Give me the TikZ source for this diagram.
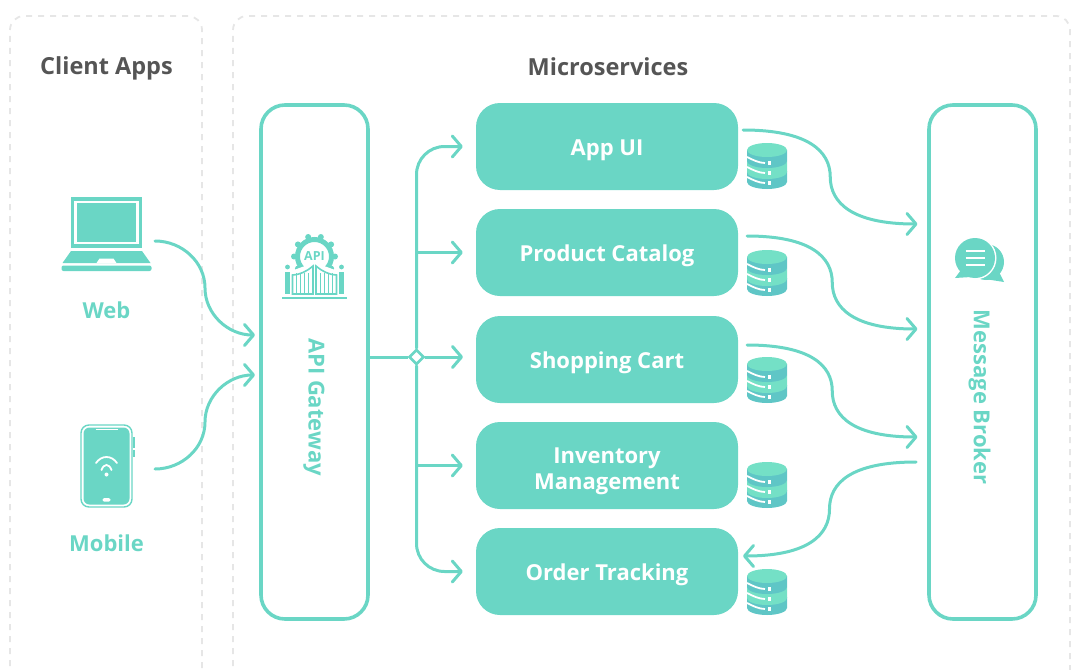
\documentclass[tikz,border=0pt]{standalone}
\usepackage{fontspec}
\setmainfont{Open Sans}
\usetikzlibrary{arrows.meta, calc, shapes.geometric}
\definecolor{mint}{HTML}{6AD6C5}
\definecolor{mintlight}{HTML}{74E0C6}
\definecolor{mintdark}{HTML}{5FC6C6}
\definecolor{titlegrey}{HTML}{555555}
\definecolor{panelgrey}{HTML}{E6E6E6}
\tikzset{x=1pt, y=-1pt}
\tikzset{panel/.style={draw=panelgrey, line width=1.8pt, dash pattern=on 6pt off 6pt, rounded corners=14pt}}
\tikzset{rail/.style={draw=mint, line width=3.6pt, rounded corners=24pt}}
\tikzset{service/.style={fill=mint, rounded corners=24pt, minimum width=262pt, minimum height=87pt, inner sep=0pt, align=center, text=white, font=\fontsize{22}{25.5}\selectfont\bfseries, execute at begin node={\rule{0pt}{23pt}}}}
\tikzset{flow/.style={draw=mint, line width=3pt, line cap=round, -{Straight Barb[length=9pt, width=21pt, line width=3pt, round]}}}
\tikzset{title/.style={text=titlegrey, font=\fontsize{23.5}{26}\selectfont\bfseries}}
\tikzset{caption/.style={text=mint, font=\fontsize{22}{26}\selectfont\bfseries}}
\tikzset{
  dbicon/.pic={
    \fill[mintdark] (-20,5) rectangle (20,16) (0,16) circle[x radius=20pt, y radius=7pt];
    \fill[mintlight] (-20,-5) rectangle (20,6) (0,6) circle[x radius=20pt, y radius=7pt];
    \fill[mintdark] (-20,-16) rectangle (20,-5) (0,-5) circle[x radius=20pt, y radius=7pt];
    \fill[mintlight] (0,-16) circle[x radius=20pt, y radius=7pt];
    \foreach \row in {-3, 7, 17} {
      \draw[white, line width=1.8pt] (-20,\row-6) .. controls (-14,\row-3) and (-8,\row) .. (-2,\row);
      \fill[white] (0.5,\row-1.8) rectangle (4,\row+1.8);
    }
  },
  laptopicon/.pic={
    \fill[mint] (-35.5,-35) rectangle (35.5,16);
    \draw[white, line width=2.2pt] (-31,-30) rectangle (31,11);
    \fill[mint] (-35.5,19) -- (35.5,19) -- (44,31) -- (-44,31) -- cycle;
    \fill[white] (-10,31) -- (-7,26.5) -- (7,26.5) -- (10,31) -- cycle;
    \fill[mint, rounded corners=2pt] (-45,33.5) rectangle (45,39);
  },
  phoneicon/.pic={
    \draw[mint, line width=1.4pt, rounded corners=8pt] (-25.5,-41) rectangle (25.5,41);
    \fill[mint, rounded corners=6pt] (-23,-38.5) rectangle (23,38.5);
    \fill[mint] (26,-29) rectangle (28.5,-18);
    \fill[mint] (26,-16) rectangle (28.5,-9);
    \draw[white, line width=1.4pt] (-11,-36.5) -- (11,-36.5);
    \draw[white, line width=1.8pt, line cap=round] (-10.5,-3) .. controls (-5,-11) and (5,-11) .. (10.5,-3);
    \draw[white, line width=1.8pt, line cap=round] (-5,4) .. controls (-2.5,-2.7) and (2.5,-2.7) .. (5,4);
    \fill[white] (0,8.5) circle (2pt);
    \fill[white, rounded corners=1.5pt] (-4,32) rectangle (4,35.5);
  },
  gateicon/.pic={
    \foreach \ang in {0,36,...,324} {
      \fill[mint] (\ang:20.5) circle (3pt);
    }
    \draw[mint, line width=5pt] (0,0) circle (17pt);
    \node[text=mint, inner sep=0pt, font=\fontsize{12.5}{12.5}\selectfont\bfseries] (apitext) at (0,0) {API};
    \fill[white] (-30,37.5) -- (-30,14) -- (-22,14) -- (0,6) -- (22,14) -- (30,14) -- (30,37.5) -- cycle;
    \fill[mint] (-32.5,40.5) rectangle (32.5,42.5);
    \foreach \side in {-1, 1} {
      \fill[mint] (\side*27,10.5) circle (2.4pt);
      \fill[mint] (\side*27-2.5,15) rectangle (\side*27+2.5,37.5);
      \draw[mint, line width=1.6pt] (\side*1.5,37.5) -- (\side*1.5,9.5) .. controls (\side*8,15) and (\side*14,18) .. (\side*22,18.5) -- (\side*22,37.5) -- cycle;
      \foreach \bar in {6, 10, 14, 18} {
        \draw[mint, line width=1.4pt] (\side*\bar,37.5) -- (\side*\bar,16);
      }
    }
  },
  chaticon/.pic={
    \fill[mint] (11,4) circle (18pt);
    \fill[mint] (22,10) -- (29,24) -- (10,21) -- cycle;
    \fill[white] (0,0) circle (21.5pt);
    \fill[mint] (0,0) circle (20pt);
    \fill[mint] (-14,12) -- (-20,20) -- (-4,19) -- cycle;
    \foreach \row in {-7, 0, 7} {
      \draw[white, line width=1.3pt] (-9.5,\row) -- (9.5,\row);
    }
  }
}

\begin{document}
\begin{tikzpicture}
	\useasboundingbox (0,0) rectangle (1078,669);

	% panels
	\draw [panel] (10,690) -- (10,16) -- (202,16) -- (202,690);
	\draw [panel] (233,690) -- (233,16) -- (1070,16) -- (1070,690);
	\node [title] (clienttitle) at (106.5,68) {Client Apps};
	\node [title] (microtitle) at (608,66.5) {Microservices};

	% clients
	\path (106.5,232) pic {laptopicon};
	\path (106.5,466) pic {phoneicon};
	\node [caption] (web) at (106.5,310) {Web};
	\node [caption] (mobile) at (106.5,543) {Mobile};
	\coordinate (webout) at (155,241);
	\coordinate (mobileout) at (155,469);

	% gateway and broker
	\draw [rail] (261,105) rectangle (368,619);
	\draw [rail] (929,105) rectangle (1036,619);
	\path (314.5,256.5) pic {gateicon};
	\path (975,258) pic {chaticon};
	\node [caption, rotate=-90] (gateway) at (314,407) {API Gateway};
	\node [caption, rotate=-90] (broker) at (979.5,397) {Message Broker};
	\coordinate (gatewayin) at (255,335);
	\coordinate (gatewayin2) at (255,375);
	\coordinate (gatewayout) at (368,357);
	\coordinate (brokerin) at (917.5,224);
	\coordinate (brokerin2) at (917.5,329);
	\coordinate (brokerin3) at (917.5,437);
	\coordinate (brokerout) at (916,462);

	% services
	\node [service] (app) at (607,146.5) {App UI};
	\node [service] (catalog) at (607,252.5) {Product Catalog};
	\node [service] (cart) at (607,359.5) {Shopping Cart};
	\node [service] (inventory) at (607,465.5) {\rule{0pt}{27pt}Inventory\\Management};
	\node [service] (order) at (607,571.5) {Order Tracking};
	\foreach \dby in {166, 273, 380, 485, 592} {
		\path (767,\dby) pic {dbicon};
	}
	\coordinate (appout) at (743,130);
	\coordinate (catalogout) at (747,236);
	\coordinate (cartout) at (747,345);
	\coordinate (orderin) at (743,556);

	% connectors
	\draw [flow] (webout) .. controls +(27,0) and +(0,-26) .. ($(webout)!.5!(gatewayin)$) .. controls +(0,26) and +(-27,0) .. (gatewayin);
	\draw [flow] (mobileout) .. controls +(27,0) and +(0,26) .. ($(mobileout)!.5!(gatewayin2)$) .. controls +(0,-26) and +(-27,0) .. (gatewayin2);

	\node [draw=mint, fill=white, line width=2.6pt, diamond, inner sep=0pt, minimum size=15pt] (hub) at (416.5,357) {};
	\draw [draw=mint, line width=3pt] (gatewayout) -- (hub);
	\draw [flow, rounded corners=28pt, shorten >=13pt] (hub) |- (app.west);
	\draw [flow, rounded corners=28pt, shorten >=13pt] (hub) |- (order.west);
	\draw [flow, shorten >=13pt] (hub |- catalog.west) -- (catalog.west);
	\draw [flow] (hub) -- (463,357);
	\draw [flow, shorten >=13pt] (hub |- inventory.west) -- (inventory.west);

	\draw [flow] (appout) .. controls +(65,0) and +(0,-26) .. ($(appout)!.5!(brokerin)$) .. controls +(0,26) and +(-65,0) .. (brokerin);
	\draw [flow] (catalogout) .. controls +(63,0) and +(0,-26) .. ($(catalogout)!.5!(brokerin2)$) .. controls +(0,26) and +(-63,0) .. (brokerin2);
	\draw [flow] (cartout) .. controls +(63,0) and +(0,-26) .. ($(cartout)!.5!(brokerin3)$) .. controls +(0,26) and +(-63,0) .. (brokerin3);
	\draw [flow] (brokerout) .. controls +(-65,0) and +(0,-26) .. ($(brokerout)!.5!(orderin)$) .. controls +(0,26) and +(65,0) .. (orderin);
\end{tikzpicture}
\end{document}
